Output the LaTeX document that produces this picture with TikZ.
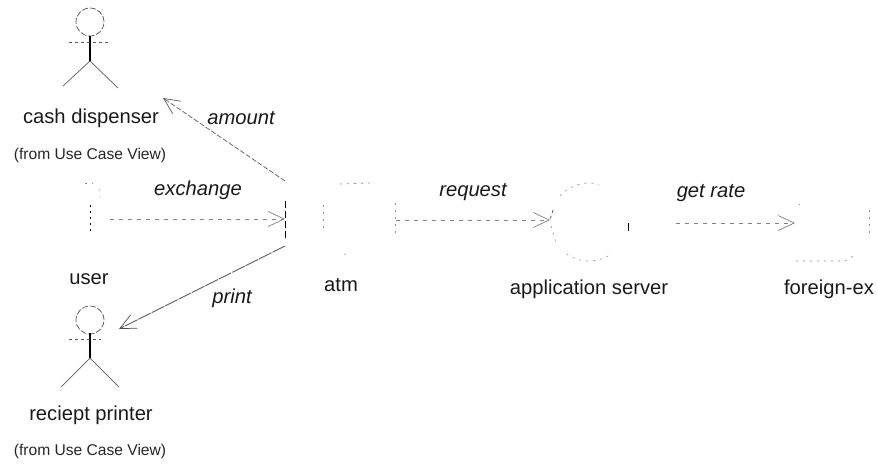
\documentclass[tikz,border=0pt]{standalone}
\usepackage{fontspec}
\setmainfont{Liberation Sans}
\usetikzlibrary{arrows.meta}
\begin{document}
\begin{tikzpicture}[x=1pt,y=-1pt,
  lbl/.style={inner sep=0pt,anchor=center,font=\fontsize{20.2}{24}\selectfont,text=black!90},
  msg/.style={inner sep=0pt,anchor=center,font=\fontsize{20.2}{24}\selectfont\itshape,text=black!90},
  small/.style={inner sep=0pt,anchor=center,font=\fontsize{15.6}{18}\selectfont,text=black!85},
  head/.style={inner sep=0pt,minimum size=28pt,circle,draw=black!70,line width=.7pt,dash pattern=on 6pt off 2pt},
  faint/.style={draw=black!45,line width=.6pt,dash pattern=on 2pt off 5pt},
  actorline/.style={draw=black!65,line width=.7pt},
  spine/.style={draw=black,line width=1.2pt},
  conn/.style={draw=black!65,line width=.7pt,dash pattern=on 5pt off 2pt},
  connf/.style={draw=black!50,line width=.7pt,dash pattern=on 4pt off 5pt},
  opn/.style={-{Straight Barb[length=16pt,width=15pt,line width=.7pt]}}]
\useasboundingbox (0,0) rectangle (878,464);
% cash dispenser actor
\node[head] (a1h) at (90,22) {};
\coordinate (a1n) at (90,36);
\coordinate (a1w) at (90,61);
\draw[spine] (a1n) -- (a1w);
\draw[actorline,dashed] (69,42) -- (111,42);
\draw[actorline] (a1w) -- (63,86);
\draw[actorline] (a1w) -- (118,88);
\node[lbl] (a1l) at (91,118) {cash dispenser};
\node[small] (a1s) at (90,155) {(from Use Case View)};
% receipt printer actor
\node[head] (a2h) at (90,320) {};
\coordinate (a2n) at (90,333);
\coordinate (a2w) at (90,358);
\draw[spine] (a2n) -- (a2w);
\draw[actorline,dashed] (69,339) -- (101,339);
\draw[actorline] (a2w) -- (61,387);
\draw[actorline] (a2w) -- (119,387);
\node[lbl] (a2l) at (91,415) {reciept printer};
\node[small] (a2s) at (90,451) {(from Use Case View)};
% user (faint)
\draw[faint] (85,183) -- (93,183);
\draw[faint] (99,189) -- (100,197);
\draw[draw=black,line width=.8pt,dash pattern=on 2pt off 4pt] (90,205) -- (90,232);
\node[lbl] (ul) at (89,279) {user};
% atm
\coordinate (atmbar1) at (285,201);
\coordinate (atmbar2) at (285,240);
\draw[draw=black,line width=.8pt,dash pattern=on 7pt off 3pt] (atmbar1) -- (atmbar2);
\draw[faint] (340,184) -- (370,183);
\draw[faint] (323,205) -- (323,232);
\draw[faint] (395,203) -- (395,234);
\draw[faint] (344,254) -- (350,255);
\node[lbl] (atml) at (341,285) {atm};
% application server
\coordinate (srv) at (589,222);
\draw[faint] (srv) ++(222:39) arc[start angle=222,end angle=285,radius=39];
\draw[draw=black!70,line width=.7pt,dashed] (553,210) -- (550,220);
\draw[faint] (551,226) -- (556,243);
\draw[faint] (srv) ++(125:39) arc[start angle=125,end angle=60,radius=39];
\draw[draw=black,line width=.9pt] (628,223) -- (628,231);
\node[lbl] (srvl) at (589,289) {application server};
% foreign-ex
\draw[faint] (796,261) -- (845,261) -- (853,256);
\draw[faint] (869,210) -- (869,238);
\draw[faint] (799,204) -- (800,204);
\node[lbl] (fxl) at (829,289) {foreign-ex};
% connectors
\coordinate (u1) at (110,219);
\coordinate (u2) at (285,219);
\coordinate (b1) at (285,181);
\coordinate (b2) at (163,98);
\coordinate (c1) at (285,246);
\coordinate (c2) at (119,329);
\coordinate (r1) at (396,220);
\coordinate (r2) at (550,220);
\coordinate (s1) at (676,223);
\coordinate (s2) at (795,223);
\draw[connf,opn] (u1) -- (u2);
\draw[conn,opn] (b1) -- (b2);
\draw[draw=black!70,line width=.7pt,dash pattern=on 14pt off 1pt,opn] (c1) -- (c2);
\draw[connf,opn] (r1) -- (r2);
\draw[connf,opn] (s1) -- (s2);
\node[msg] (m1) at (241,118) {amount};
\node[msg] (m2) at (198,190) {exchange};
\node[msg] (m3) at (232,298) {print};
\node[msg] (m4) at (473,192) {request};
\node[msg] (m5) at (711,193) {get rate};
\end{tikzpicture}
\end{document}
